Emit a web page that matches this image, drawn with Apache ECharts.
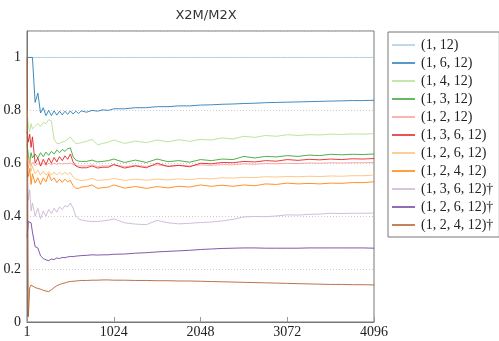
<!DOCTYPE html>
<html>
<head>
<meta charset="utf-8">
<script src="https://cdn.jsdelivr.net/npm/echarts@6/dist/echarts.min.js"></script>
<style>
  html, body { margin: 0; padding: 0; background: #fff; }
  #chart { width: 499px; height: 341px; }
</style>
</head>
<body>
<div id="chart"></div>
<script>
// sample positions along the x axis
const xs = [1, 16, 32, 48, 64, 96, 128, 160, 192, 224, 256, 288, 320, 352, 384, 416, 448, 480, 512,
  544, 576, 608, 640, 704, 768, 832, 896, 960, 1024, 1152, 1280, 1408, 1536, 1664, 1792, 1920, 2048,
  2176, 2304, 2432, 2560, 2688, 2816, 2944, 3072, 3200, 3328, 3456, 3584, 3712, 3840, 3968, 4096];

const xTicks = [1, 1024, 2048, 3072, 4096];
const yTicks = [0, 0.2, 0.4, 0.6, 0.8, 1];

const names = ["(1, 12)", "(1, 6, 12)", "(1, 4, 12)", "(1, 3, 12)", "(1, 2, 12)", "(1, 3, 6, 12)",
  "(1, 2, 6, 12)", "(1, 2, 4, 12)", "(1, 3, 6, 12)†", "(1, 2, 6, 12)†", "(1, 2, 4, 12)†"];

const colors = ["#a6cee3", "#1f78b4", "#b2df8a", "#33a02c", "#fb9a99", "#e31a1c",
  "#fdbf6f", "#ff7f00", "#cab2d6", "#6a3d9a", "#b15928"];

const s_1_12 = xs.map(() => 1);
const s_1_6_12 = [1, 1, 1, 1, 1, 0.83, 0.865, 0.79, 0.81, 0.78, 0.80, 0.78, 0.798, 0.782, 0.797, 0.783,
  0.797, 0.785, 0.798, 0.786, 0.797, 0.788, 0.798, 0.793, 0.80, 0.797, 0.802, 0.80, 0.806, 0.806, 0.81,
  0.81, 0.814, 0.814, 0.817, 0.817, 0.82, 0.821, 0.823, 0.824, 0.826, 0.827, 0.829, 0.83, 0.831, 0.832,
  0.833, 0.834, 0.835, 0.836, 0.837, 0.837, 0.838];
const s_1_4_12 = [0.80, 0.74, 0.72, 0.75, 0.73, 0.74, 0.75, 0.74, 0.755, 0.75, 0.765, 0.76, 0.69, 0.675,
  0.675, 0.68, 0.683, 0.69, 0.70, 0.685, 0.675, 0.675, 0.678, 0.683, 0.69, 0.67, 0.675, 0.68, 0.688,
  0.675, 0.684, 0.678, 0.688, 0.681, 0.689, 0.683, 0.69, 0.688, 0.696, 0.692, 0.702, 0.698, 0.705,
  0.702, 0.708, 0.705, 0.708, 0.707, 0.71, 0.709, 0.711, 0.71, 0.712];
const s_1_3_12 = [0.67, 0.63, 0.60, 0.64, 0.62, 0.635, 0.62, 0.64, 0.625, 0.642, 0.63, 0.645, 0.635,
  0.65, 0.64, 0.652, 0.645, 0.655, 0.658, 0.625, 0.612, 0.608, 0.607, 0.607, 0.612, 0.605, 0.607, 0.61,
  0.616, 0.603, 0.612, 0.603, 0.616, 0.606, 0.61, 0.604, 0.614, 0.61, 0.616, 0.614, 0.626, 0.62, 0.626,
  0.624, 0.629, 0.626, 0.631, 0.629, 0.634, 0.632, 0.634, 0.633, 0.635];
const s_1_2_12 = [0.62, 0.58, 0.61, 0.59, 0.605, 0.59, 0.60, 0.59, 0.60, 0.592, 0.60, 0.594, 0.60, 0.596,
  0.60, 0.597, 0.60, 0.598, 0.602, 0.595, 0.592, 0.59, 0.59, 0.59, 0.594, 0.588, 0.59, 0.59, 0.595,
  0.587, 0.592, 0.588, 0.594, 0.589, 0.592, 0.59, 0.594, 0.592, 0.595, 0.594, 0.598, 0.596, 0.599, 0.598,
  0.60, 0.599, 0.601, 0.60, 0.602, 0.601, 0.602, 0.602, 0.603];
const s_1_3_6_12 = [0.72, 0.68, 0.71, 0.66, 0.70, 0.60, 0.62, 0.59, 0.615, 0.595, 0.62, 0.60, 0.622,
  0.605, 0.625, 0.61, 0.628, 0.615, 0.635, 0.605, 0.59, 0.585, 0.583, 0.583, 0.59, 0.582, 0.585, 0.585,
  0.595, 0.582, 0.59, 0.583, 0.60, 0.588, 0.592, 0.587, 0.60, 0.598, 0.603, 0.602, 0.607, 0.605, 0.61,
  0.608, 0.614, 0.611, 0.615, 0.613, 0.616, 0.614, 0.617, 0.616, 0.618];
const s_1_2_6_12 = [0.64, 0.60, 0.62, 0.57, 0.59, 0.56, 0.575, 0.555, 0.57, 0.555, 0.568, 0.555, 0.567,
  0.556, 0.566, 0.557, 0.566, 0.558, 0.565, 0.548, 0.54, 0.537, 0.535, 0.537, 0.543, 0.535, 0.537, 0.538,
  0.543, 0.535, 0.54, 0.536, 0.54, 0.537, 0.541, 0.538, 0.543, 0.541, 0.545, 0.544, 0.547, 0.546, 0.549,
  0.548, 0.55, 0.549, 0.551, 0.55, 0.552, 0.551, 0.553, 0.553, 0.555];
const s_1_2_4_12 = [0.60, 0.55, 0.58, 0.52, 0.56, 0.525, 0.545, 0.52, 0.545, 0.53, 0.56, 0.535, 0.545,
  0.527, 0.54, 0.528, 0.54, 0.53, 0.535, 0.515, 0.506, 0.505, 0.51, 0.512, 0.518, 0.505, 0.508, 0.51,
  0.518, 0.506, 0.512, 0.505, 0.512, 0.507, 0.513, 0.51, 0.518, 0.513, 0.517, 0.513, 0.518, 0.515, 0.522,
  0.52, 0.525, 0.522, 0.524, 0.522, 0.525, 0.524, 0.527, 0.527, 0.53];
const s_1_3_6_12_d = [0.55, 0.46, 0.50, 0.42, 0.45, 0.40, 0.43, 0.39, 0.42, 0.40, 0.425, 0.41, 0.43,
  0.415, 0.435, 0.425, 0.44, 0.435, 0.45, 0.43, 0.40, 0.39, 0.386, 0.382, 0.38, 0.38, 0.382, 0.385, 0.39,
  0.375, 0.37, 0.368, 0.384, 0.375, 0.371, 0.373, 0.376, 0.378, 0.382, 0.388, 0.397, 0.399, 0.398, 0.401,
  0.405, 0.404, 0.407, 0.408, 0.411, 0.41, 0.411, 0.411, 0.412];
const s_1_2_6_12_d = [0.32, 0.38, 0.385, 0.375, 0.34, 0.285, 0.28, 0.25, 0.24, 0.235, 0.232, 0.238,
  0.236, 0.242, 0.24, 0.244, 0.243, 0.246, 0.248, 0.247, 0.249, 0.25, 0.251, 0.252, 0.254, 0.253, 0.254,
  0.254, 0.256, 0.257, 0.26, 0.262, 0.265, 0.267, 0.269, 0.271, 0.274, 0.276, 0.278, 0.279, 0.28, 0.28,
  0.279, 0.279, 0.279, 0.279, 0.28, 0.28, 0.28, 0.28, 0.28, 0.28, 0.279];
const s_1_2_4_12_d = [1.0, 0.02, 0.13, 0.14, 0.135, 0.13, 0.127, 0.124, 0.12, 0.117, 0.115, 0.122, 0.13,
  0.137, 0.142, 0.145, 0.148, 0.151, 0.153, 0.154, 0.155, 0.156, 0.157, 0.157, 0.158, 0.158, 0.159, 0.159,
  0.158, 0.158, 0.157, 0.157, 0.156, 0.156, 0.155, 0.155, 0.154, 0.153, 0.152, 0.151, 0.15, 0.149, 0.148,
  0.147, 0.146, 0.145, 0.144, 0.143, 0.142, 0.142, 0.141, 0.141, 0.14];

const values = [s_1_12, s_1_6_12, s_1_4_12, s_1_3_12, s_1_2_12, s_1_3_6_12, s_1_2_6_12, s_1_2_4_12,
  s_1_3_6_12_d, s_1_2_6_12_d, s_1_2_4_12_d];

const chart = echarts.init(document.getElementById("chart"));

const serif = "serif";

const options = {
  animation: false,
  title: {
    text: "X2M/M2X",
    left: 201,
    top: 4,
    textAlign: "center",
    textStyle: { fontFamily: "DejaVu Sans", fontSize: 13, fontWeight: "normal", color: "#333" },
  },
  legend: {
    orient: "vertical",
    left: 388,
    top: 32,
    width: 110,
    padding: [6, 6, 5, 4],
    icon: "rect",
    itemWidth: 23,
    itemHeight: 1.5,
    itemGap: 4,
    borderColor: "#777",
    borderWidth: 1,
    data: names,
    textStyle: {
      fontFamily: serif,
      fontSize: 14,
      lineHeight: 12,
      color: "#222",
      padding: [0, 0, 0, 1],
    },
  },
  grid: {
    left: 27,
    right: 125,
    top: 31,
    bottom: 19,
    show: true,
    borderColor: "#777",
    borderWidth: 1,
  },
  xAxis: {
    type: "value",
    min: 0,
    max: 4096,
    interval: 1024,
    axisLine: { show: true, lineStyle: { color: "#777" } },
    axisTick: { show: true, inside: true, length: 5, lineStyle: { color: "#999" } },
    splitLine: { show: false },
    axisLabel: {
      fontFamily: serif,
      fontSize: 14,
      color: "#222",
      margin: 3,
      showMinLabel: true,
      showMaxLabel: true,
      formatter: (v) => (v === 0 ? String(xTicks[0]) : (xTicks.includes(v) ? String(v) : "")),
    },
  },
  yAxis: {
    type: "value",
    min: 0,
    max: 1.1,
    interval: 0.2,
    axisLine: { show: true, lineStyle: { color: "#777" } },
    axisTick: { show: false },
    splitLine: { show: true, lineStyle: { color: "#ccc", type: [1, 2] } },
    axisLabel: {
      fontFamily: serif,
      fontSize: 14,
      color: "#222",
      margin: 6,
      showMaxLabel: false,
      formatter: (v) => {
        const r = Math.round(v * 10) / 10;
        return yTicks.includes(r) ? String(r) : "";
      },
    },
  },
  series: names.map((name, i) => ({
    name,
    type: "line",
    symbol: "none",
    data: xs.map((x, j) => [x, values[i][j]]),
    itemStyle: { color: colors[i] },
    lineStyle: { color: colors[i], width: 1, opacity: 0.85 },
  })),
};

chart.setOption(options);
</script>
</body>
</html>
